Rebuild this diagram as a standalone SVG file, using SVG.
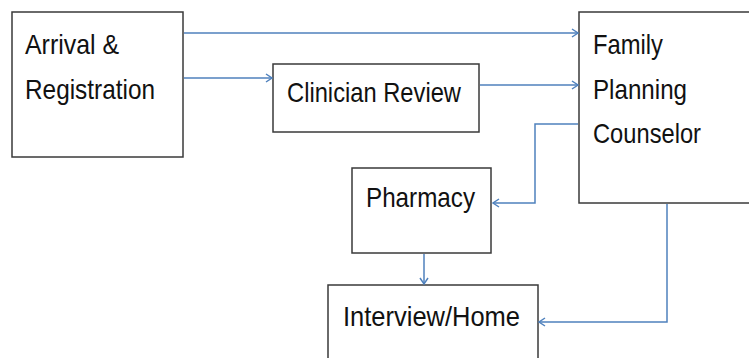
<svg xmlns="http://www.w3.org/2000/svg" width="749" height="358" viewBox="0 0 749 358">
<style>
.box{fill:#fff;stroke:#3a3a3a;stroke-width:1.5}
.lbl{font-family:"Liberation Sans",Arial,sans-serif;font-size:28px;fill:#111}
.con{fill:none;stroke:#4f81bd;stroke-width:1.5}
</style>
<defs>
<marker id="arr" markerWidth="10" markerHeight="10" refX="8" refY="5" orient="auto" markerUnits="userSpaceOnUse">
<path d="M2,1 L8,5 L2,9" fill="none" stroke="#4f81bd" stroke-width="1.5"/>
</marker>
</defs>
<rect width="749" height="358" fill="#fff"/>
<g id="arrival">
<rect class="box" x="12" y="12" width="171" height="145"/>
<text class="lbl" x="25" y="54" textLength="94" lengthAdjust="spacingAndGlyphs">Arrival &amp;</text>
<text class="lbl" x="25" y="99" textLength="130" lengthAdjust="spacingAndGlyphs">Registration</text>
</g>
<g id="clinician">
<rect class="box" x="273" y="64" width="206" height="68"/>
<text class="lbl" x="287" y="102" textLength="174" lengthAdjust="spacingAndGlyphs">Clinician Review</text>
</g>
<g id="counselor">
<rect class="box" x="579" y="12" width="175" height="191"/>
<text class="lbl" x="593" y="54" textLength="70" lengthAdjust="spacingAndGlyphs">Family</text>
<text class="lbl" x="593" y="99" textLength="94" lengthAdjust="spacingAndGlyphs">Planning</text>
<text class="lbl" x="593" y="143" textLength="108" lengthAdjust="spacingAndGlyphs">Counselor</text>
</g>
<g id="pharmacy">
<rect class="box" x="352" y="168" width="139" height="85"/>
<text class="lbl" x="366" y="207" textLength="109" lengthAdjust="spacingAndGlyphs">Pharmacy</text>
</g>
<g id="interview">
<rect class="box" x="328" y="285" width="210" height="80"/>
<text class="lbl" x="343" y="326" textLength="177" lengthAdjust="spacingAndGlyphs">Interview/Home</text>
</g>
<g id="connectors">
<path class="con" d="M184,33 H578" marker-end="url(#arr)"/>
<path class="con" d="M184,78 H272" marker-end="url(#arr)"/>
<path class="con" d="M480,85 H578" marker-end="url(#arr)"/>
<path class="con" d="M578,124 H535 V203 H493" marker-end="url(#arr)"/>
<path class="con" d="M424,254 V284" marker-end="url(#arr)"/>
<path class="con" d="M667,204 V322 H539" marker-end="url(#arr)"/>
</g>
</svg>
